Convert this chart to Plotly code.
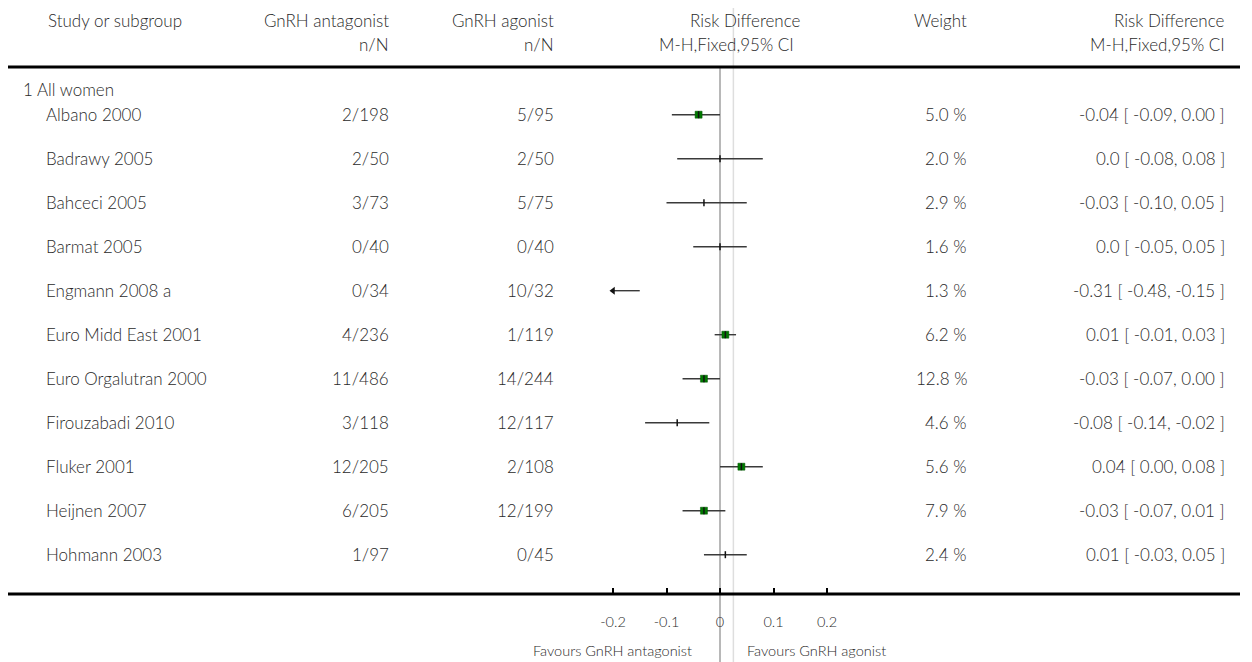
import plotly.graph_objects as go

# ---------------- data ----------------
subgroup = "1 All women"
studies = ["Albano 2000", "Badrawy 2005", "Bahceci 2005", "Barmat 2005", "Engmann 2008 a",
           "Euro Midd East 2001", "Euro Orgalutran 2000", "Firouzabadi 2010", "Fluker 2001",
           "Heijnen 2007", "Hohmann 2003"]
antagonist_nN = ["2/198", "2/50", "3/73", "0/40", "0/34", "4/236", "11/486", "3/118", "12/205", "6/205", "1/97"]
agonist_nN = ["5/95", "2/50", "5/75", "0/40", "10/32", "1/119", "14/244", "12/117", "2/108", "12/199", "0/45"]
rd = [-0.04, 0.0, -0.03, 0.0, -0.31, 0.01, -0.03, -0.08, 0.04, -0.03, 0.01]
ci_low = [-0.09, -0.08, -0.10, -0.05, -0.48, -0.01, -0.07, -0.14, 0.00, -0.07, -0.03]
ci_high = [0.00, 0.08, 0.05, 0.05, -0.15, 0.03, 0.00, -0.02, 0.08, 0.01, 0.05]
weights = [5.0, 2.0, 2.9, 1.6, 1.3, 6.2, 12.8, 4.6, 5.6, 7.9, 2.4]
rd_labels = ["-0.04 [ -0.09, 0.00 ]", "0.0 [ -0.08, 0.08 ]", "-0.03 [ -0.10, 0.05 ]",
             "0.0 [ -0.05, 0.05 ]", "-0.31 [ -0.48, -0.15 ]", "0.01 [ -0.01, 0.03 ]",
             "-0.03 [ -0.07, 0.00 ]", "-0.08 [ -0.14, -0.02 ]", "0.04 [ 0.00, 0.08 ]",
             "-0.03 [ -0.07, 0.01 ]", "0.01 [ -0.03, 0.05 ]"]
pooled_rd = 0.025
tick_vals = [-0.2, -0.1, 0, 0.1, 0.2]
tick_text = ["-0.2", "-0.1", "0", "0.1", "0.2"]
axis_range = [-0.2, 0.2]

# ---------------- layout helpers ----------------
# page body has an 8px margin: the figure is drawn at (8, 8)
OX, OY = 8, 8
W, H = 1244, 654
FONT = "Lato"
TXT = "#2a2a2a"
FS = 17
WT = 300

def px(xs):  # screen x -> paper
    return (xs - OX) / W

def py(ys):  # screen y -> paper
    return 1 - (ys - OY) / H

ROW0, ROWH = 114.7, 44.0
row_y = list(range(len(studies)))
y_top = (OY - ROW0) / ROWH
y_bot = (OY + H - ROW0) / ROWH

# axis: -0.2 at x=613px, 0.2 at x=827px; pad the range a little so end ticks are kept
X_LEFT, X_RIGHT = 613.0, 827.0
pad = 0.002
ppu = (X_RIGHT - X_LEFT) / (axis_range[1] - axis_range[0])
view_range = [axis_range[0] - pad, axis_range[1] + pad]
x_domain = [px(X_LEFT - pad * ppu), px(X_RIGHT + pad * ppu)]

fig = go.Figure()

for i in range(len(studies)):
    lo = max(ci_low[i], axis_range[0])
    hi = min(ci_high[i], axis_range[1])
    fig.add_trace(go.Scatter(x=[lo, hi], y=[row_y[i], row_y[i]], mode="lines",
                             line=dict(color="#3a3a3a", width=1.4), hoverinfo="skip",
                             showlegend=False, cliponaxis=False))
    if ci_low[i] < axis_range[0]:
        fig.add_trace(go.Scatter(x=[axis_range[0]], y=[row_y[i]], mode="markers",
                                 marker=dict(symbol="triangle-left", size=7, color="#111"),
                                 hoverinfo="skip", showlegend=False, cliponaxis=False))

inside = [i for i in range(len(studies)) if axis_range[0] <= rd[i] <= axis_range[1]]
big = [i for i in inside if weights[i] >= 5]
fig.add_trace(go.Scatter(x=[rd[i] for i in big], y=[row_y[i] for i in big], mode="markers",
                         marker=dict(symbol="square", size=7, color="#007a00",
                                     line=dict(color="#005500", width=0.5)),
                         hoverinfo="skip", showlegend=False, cliponaxis=False))
fig.add_trace(go.Scatter(x=[rd[i] for i in inside], y=[row_y[i] for i in inside], mode="markers",
                         marker=dict(symbol="line-ns", size=5, line=dict(color="#111", width=1.5)),
                         hoverinfo="skip", showlegend=False, cliponaxis=False))

shapes = []
shapes.append(dict(type="line", xref="x", yref="paper", x0=0, x1=0, y0=py(68), y1=0,
                   line=dict(color="#a0a0a0", width=1.5), layer="below"))
shapes.append(dict(type="line", xref="x", yref="paper", x0=pooled_rd, x1=pooled_rd, y0=1, y1=0,
                   line=dict(color="#dedede", width=1.5), layer="below"))
shapes.append(dict(type="line", xref="paper", yref="paper", x0=px(8), x1=px(1240), y0=py(67), y1=py(67),
                   line=dict(color="black", width=3)))
shapes.append(dict(type="line", xref="paper", yref="paper", x0=px(8), x1=px(1240), y0=py(594), y1=py(594),
                   line=dict(color="black", width=3)))

ann = []
def add_text(x, y, text, anchor="left", size=FS, yref="paper"):
    ann.append(dict(x=x, y=y, xref="paper", yref=yref, text=text, showarrow=False,
                    xanchor=anchor, yanchor="middle", borderpad=0,
                    font=dict(family=FONT, size=size, color=TXT, weight=WT)))

add_text(px(47), py(20), "Study or subgroup")
add_text(px(390), py(20), "GnRH antagonist", "right")
add_text(px(390), py(44), "n/N", "right")
add_text(px(555), py(20), "GnRH agonist", "right")
add_text(px(555), py(44), "n/N", "right")
add_text(px(802), py(20), "Risk Difference", "right")
add_text(px(795), py(44), "M-H,Fixed,95% CI", "right")
add_text(px(968), py(20), "Weight", "right")
add_text(px(1226), py(20), "Risk Difference", "right")
add_text(px(1226), py(44), "M-H,Fixed,95% CI", "right")
add_text(px(22), py(89), subgroup)

for i in range(len(studies)):
    add_text(px(45), row_y[i], studies[i], yref="y")
    add_text(px(390), row_y[i], antagonist_nN[i], "right", yref="y")
    add_text(px(555), row_y[i], agonist_nN[i], "right", yref="y")
    add_text(px(968), row_y[i], f"{weights[i]:.1f} %", "right", yref="y")
    add_text(px(1226), row_y[i], rd_labels[i], "right", yref="y")

add_text(px(693), py(650), "Favours GnRH antagonist", "right", size=14.5)
add_text(px(746), py(650), "Favours GnRH agonist", "left", size=14.5)

fig.update_layout(
    width=W, height=H, margin=dict(l=0, r=0, t=0, b=0, autoexpand=False),
    paper_bgcolor="white", plot_bgcolor="rgba(0,0,0,0)",
    shapes=shapes, annotations=ann,
    xaxis=dict(domain=x_domain, range=view_range, showgrid=False, zeroline=False,
               showline=False, ticks="inside", ticklen=6, tickwidth=2, tickcolor="black",
               tickvals=tick_vals, ticktext=tick_text, anchor="free", position=py(594),
               tickfont=dict(family=FONT, size=14.5, color=TXT, weight=WT), ticklabelstandoff=17),
    yaxis=dict(domain=[0, 1], range=[y_bot, y_top], visible=False),
)

fig.write_html("out.html")
